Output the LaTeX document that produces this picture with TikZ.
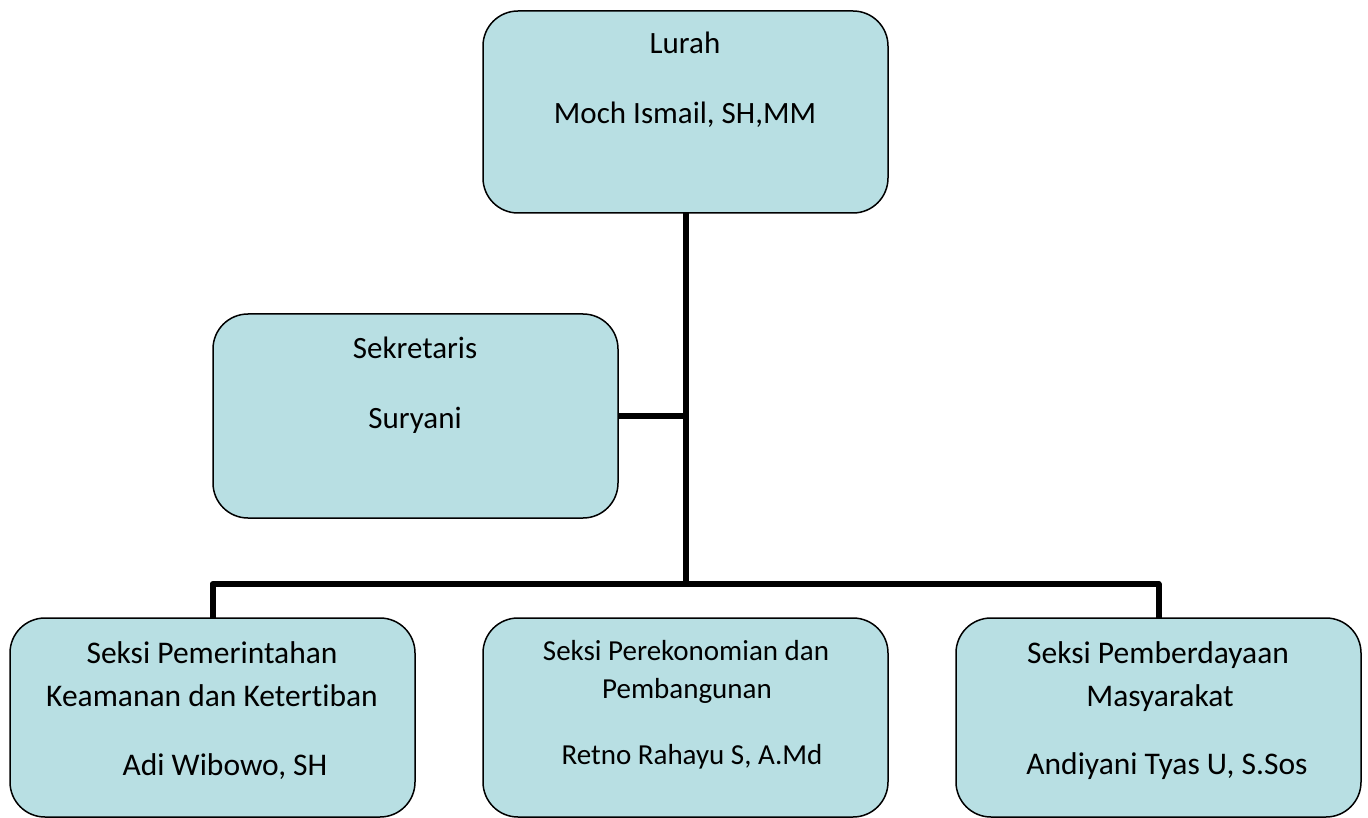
\documentclass[tikz,border=0pt]{standalone}
\usepackage{fontspec}
\setmainfont[Ligatures=NoCommon]{Carlito}
\definecolor{boxfill}{RGB}{184,223,227}
\begin{document}
\begin{tikzpicture}[x=1pt,y=-1pt,
  orgbox/.style={draw=black,line width=1.5pt,fill=boxfill,rounded corners=35pt,
    minimum width=405pt,inner sep=0pt,outer sep=0pt},
  conn/.style={line width=6pt,line join=round,black},
  big/.style={anchor=base,inner sep=0pt,font=\fontsize{31}{36}\selectfont},
  mid/.style={anchor=base,inner sep=0pt,font=\fontsize{31.5}{36}\selectfont},
  small/.style={anchor=base,inner sep=0pt,font=\fontsize{29}{34}\selectfont}]
\useasboundingbox (0,0) rectangle (1368,818);
% boxes
\node[orgbox,minimum height=202pt] (lurah) at (685.5,112) {};
\node[orgbox,minimum height=204pt] (sek) at (415.5,416) {};
\node[orgbox,minimum height=199pt] (left) at (212.5,717.5) {};
\node[orgbox,minimum height=199pt] (middle) at (685.5,717.5) {};
\node[orgbox,minimum height=199pt] (right) at (1158.5,717.5) {};
% connectors
\coordinate (jn) at (685.5,584);
\draw[conn] (lurah.south) -- (jn);
\draw[conn] (sek.east) -- (sek.east -| lurah.south);
\draw[conn] (left.north) |- (jn) -| (right.north);
% texts
\node[big] (t1) at (685,54) {Lurah};
\node[big] (t2) at (685,124) {Moch Ismail, SH,MM};
\node[big] (t3) at (415,358) {Sekretaris};
\node[big] (t4) at (415,428) {Suryani};
\node[mid] (t5) at (212,663) {Seksi Pemerintahan};
\node[mid] (t6) at (212,706) {Keamanan dan Ketertiban};
\node[mid] (t7) at (225,775) {Adi Wibowo, SH};
\node[small] (t8) at (686,660) {Seksi Perekonomian dan};
\node[small] (t9) at (687,698) {Pembangunan};
\node[small] (t10) at (692,764) {Retno Rahayu S, A.Md};
\node[mid] (t11) at (1158,663) {Seksi Pemberdayaan};
\node[mid] (t12) at (1160,706) {Masyarakat};
\node[mid] (t13) at (1167,774) {Andiyani Tyas U, S.Sos};
\end{tikzpicture}
\end{document}
